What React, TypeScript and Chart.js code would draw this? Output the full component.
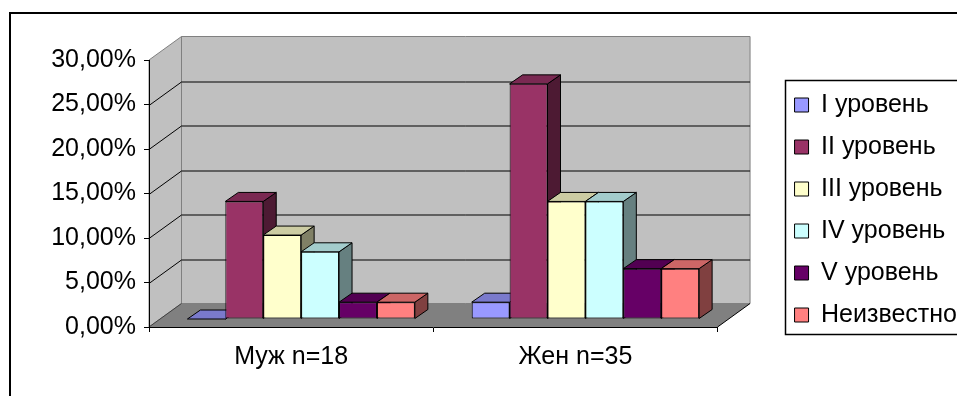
import React, { useEffect, useRef } from "react";
import { Chart, registerables } from "chart.js";

Chart.register(...registerables);

// Groups on the category axis
const groups = ["Муж n=18", "Жен n=35"];

// Levels shown as series
const levels = ["I уровень", "II уровень", "III уровень", "IV уровень", "V уровень", "Неизвестно"];
const levelColors = ["#9999FF", "#993366", "#FFFFCC", "#CCFFFF", "#660066", "#FF8080"];

// Share of all respondents, % (per level)
const maleShares = [0, 13.21, 9.43, 7.55, 1.89, 1.89];
const femaleShares = [1.89, 26.42, 13.21, 13.21, 5.66, 5.66];

// Value axis
const yMin = 0;
const yMax = 30;
const yStep = 5;

const FONT = { family: "'Liberation Sans', Arial, sans-serif", size: 25 };

// 3D look: depth of the walls, offset of the bar plane, depth of the bars
const WALL_DEPTH: [number, number] = [32.5, -23.5];
const BAR_SHIFT: [number, number] = [10, -8];
const BAR_DEPTH: [number, number] = [13, -9];

function shade(hex: string, k: number) {
  const n = parseInt(hex.slice(1), 16);
  const r = Math.round(((n >> 16) & 255) * k);
  const g = Math.round(((n >> 8) & 255) * k);
  const b = Math.round((n & 255) * k);
  return `rgb(${r},${g},${b})`;
}

function poly(ctx: CanvasRenderingContext2D, pts: number[][], fill: string | null, stroke: string | null) {
  ctx.beginPath();
  ctx.moveTo(pts[0][0], pts[0][1]);
  for (let i = 1; i < pts.length; i++) ctx.lineTo(pts[i][0], pts[i][1]);
  ctx.closePath();
  if (fill) {
    ctx.fillStyle = fill;
    ctx.fill();
  }
  if (stroke) {
    ctx.strokeStyle = stroke;
    ctx.lineWidth = 1;
    ctx.stroke();
  }
}

function line(ctx: CanvasRenderingContext2D, x1: number, y1: number, x2: number, y2: number, color: string) {
  ctx.beginPath();
  ctx.moveTo(x1, y1);
  ctx.lineTo(x2, y2);
  ctx.strokeStyle = color;
  ctx.lineWidth = 1;
  ctx.stroke();
}

const box3dPlugin = {
  id: "box3d",
  beforeDraw(chart: any) {
    const { ctx, chartArea: a, scales } = chart;
    const y = scales.y;
    const [dx, dy] = WALL_DEPTH;
    const L = a.left, R = a.right, T = a.top, B = a.bottom;
    ctx.save();
    ctx.fillStyle = "#fff";
    ctx.fillRect(0, 0, chart.width, chart.height);

    // outer frame
    ctx.beginPath();
    ctx.moveTo(10, chart.height + 5);
    ctx.lineTo(10, 13);
    ctx.lineTo(chart.width + 5, 13);
    ctx.strokeStyle = "#000";
    ctx.lineWidth = 2;
    ctx.stroke();

    // back wall, side wall, floor
    poly(ctx, [[L + dx, T + dy], [R + dx, T + dy], [R + dx, B + dy], [L + dx, B + dy]], "#C0C0C0", "#808080");
    poly(ctx, [[L, B], [L, T], [L + dx, T + dy], [L + dx, B + dy]], "#C0C0C0", "#808080");
    poly(ctx, [[L, B], [R, B], [R + dx, B + dy], [L + dx, B + dy]], "#808080", null);
    line(ctx, R, B, R + dx, B + dy, "#000");
    line(ctx, L, B, L + dx, B + dy, "#404040");

    // gridlines on the side and back walls
    for (const t of y.ticks) {
      if (t.value <= yMin || t.value >= yMax) continue;
      const py = Math.round(y.getPixelForValue(t.value)) + 0.5;
      line(ctx, L, py, L + dx, py + dy, "#000");
      line(ctx, L + dx, py + dy, R + dx, py + dy, "#000");
    }
    ctx.restore();
  },
  beforeDatasetsDraw(chart: any) {
    const ctx = chart.ctx;
    const [bx, by] = BAR_DEPTH;
    ctx.save();
    ctx.translate(BAR_SHIFT[0], BAR_SHIFT[1]);
    const metas = chart.getSortedVisibleDatasetMetas();
    const n = chart.data.labels.length;
    for (let i = 0; i < n; i++) {
      for (const meta of metas) {
        const el = meta.data[i];
        if (!el) continue;
        const { x, y, base, width } = el.getProps(["x", "y", "base", "width"], true);
        const color = chart.data.datasets[meta.index].backgroundColor as string;
        const l = x - width / 2;
        const r = x + width / 2;
        poly(ctx, [[r, y], [r + bx, y + by], [r + bx, base + by], [r, base]], shade(color, 0.5), "#000");
        poly(ctx, [[l, y], [r, y], [r + bx, y + by], [l + bx, y + by]], shade(color, 0.8), "#000");
      }
    }
  },
  afterDatasetsDraw(chart: any) {
    chart.ctx.restore();
  },
  afterDraw(chart: any) {
    const hb = chart.legend?.legendHitBoxes;
    if (!hb || !hb.length) return;
    const first = hb[0];
    const last = hb[hb.length - 1];
    const ctx = chart.ctx;
    const left = Math.round(first.left - 10) + 0.5;
    const top = Math.round(first.top - 13) + 0.5;
    const bottom = Math.round(last.top + last.height + 6) + 0.5;
    ctx.save();
    ctx.strokeStyle = "#000";
    ctx.lineWidth = 1.5;
    ctx.strokeRect(left, top, chart.width + 20 - left, bottom - top);
    ctx.restore();
  },
};

export default function App() {
  const ref = useRef<HTMLCanvasElement>(null);

  useEffect(() => {
    const datasets = levels.map((label, i) => ({
      label,
      data: [maleShares[i], femaleShares[i]],
      backgroundColor: levelColors[i],
      borderColor: "#000",
      borderWidth: 1,
      borderSkipped: false as const,
      barPercentage: 1,
      categoryPercentage: 0.8,
      clip: false as const,
    }));

    const chart = new Chart(ref.current!, {
      type: "bar",
      data: { labels: groups, datasets },
      options: {
        animation: false,
        responsive: false,
        devicePixelRatio: 1,
        layout: { padding: { left: 0, right: -10, top: 24, bottom: 0 } },
        plugins: {
          title: { display: false },
          tooltip: { enabled: false },
          legend: {
            position: "right",
            maxWidth: 400,
            labels: {
              font: FONT,
              color: "#000",
              boxWidth: 14,
              boxHeight: 14,
              padding: 17,
            },
          },
        },
        scales: {
          x: {
            offset: true,
            grid: { offset: true, drawOnChartArea: false, drawTicks: true, tickLength: 5, color: "#000" },
            border: { display: true, color: "#000", width: 1 },
            ticks: { font: FONT, color: "#000", padding: 10, maxRotation: 0 },
            afterFit: (s: any) => {
              s.height = 69;
            },
          },
          y: {
            min: yMin,
            max: yMax,
            ticks: {
              stepSize: yStep,
              font: FONT,
              color: "#000",
              padding: 8,
              callback: (v: any) => Number(v).toFixed(2).replace(".", ",") + "%",
            },
            grid: { drawOnChartArea: false, drawTicks: true, tickLength: 5, color: "#000" },
            border: { display: true, color: "#000", width: 1 },
            afterFit: (s: any) => {
              s.width = 149;
            },
          },
          gapTop: {
            type: "linear",
            position: "top",
            display: true,
            grid: { display: false },
            border: { display: false },
            ticks: { display: false },
            afterFit: (s: any) => {
              s.height = 36;
            },
          },
          gap: {
            type: "linear",
            position: "right",
            display: true,
            grid: { display: false },
            border: { display: false },
            ticks: { display: false },
            afterFit: (s: any) => {
              s.width = 60;
            },
          },
        },
      },
      plugins: [box3dPlugin],
    });
    return () => chart.destroy();
  }, []);

  return (
    <div style={{ position: "fixed", left: 0, top: 0, width: 957, height: 396, background: "#fff" }}>
      <canvas ref={ref} width={957} height={396} style={{ display: "block" }} />
    </div>
  );
}
